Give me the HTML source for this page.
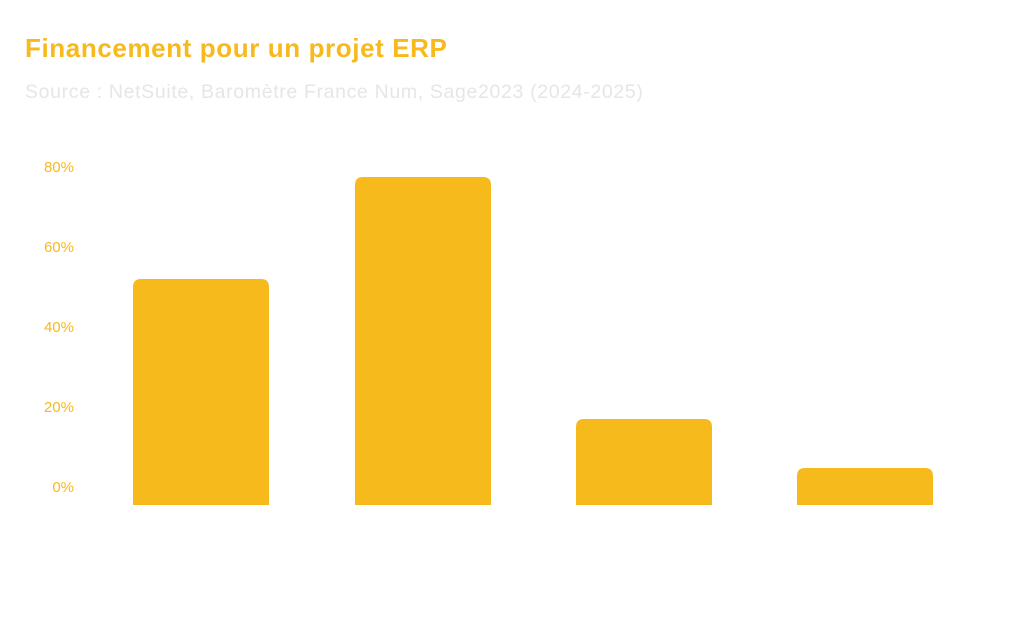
<!DOCTYPE html>
<html><head><meta charset="utf-8"><style>
html,body{margin:0;padding:0;background:#fff;}
body{width:1024px;height:632px;overflow:hidden;position:relative;font-family:"Liberation Sans",sans-serif;}
.t{position:absolute;left:25px;top:33px;font-size:26px;font-weight:bold;color:#F7B91C;letter-spacing:0.6px;white-space:nowrap;}
.s{position:absolute;left:25px;top:81px;font-size:19.5px;color:#e6e6e6;letter-spacing:0.65px;white-space:nowrap;}
</style></head><body>
<div class="t">Financement pour un projet ERP</div>
<div class="s">Source : NetSuite, Baromètre France Num, Sage2023 (2024-2025)</div>
<svg width="1024" height="632" style="position:absolute;left:0;top:0">
<g font-family="Liberation Sans, sans-serif" font-size="15" fill="#F7B91C" text-anchor="end">
<text x="74" y="172">80%</text>
<text x="74" y="252">60%</text>
<text x="74" y="332">40%</text>
<text x="74" y="412">20%</text>
<text x="74" y="492">0%</text>
</g>
<g fill="#F7BA1C">
<path d="M133 505 V287 Q133 279 141 279 H261 Q269 279 269 287 V505 Z"/>
<path d="M355 505 V185 Q355 177 363 177 H483 Q491 177 491 185 V505 Z"/>
<path d="M576 505 V427 Q576 419 584 419 H704 Q712 419 712 427 V505 Z"/>
<path d="M797 505 V476 Q797 468 805 468 H925 Q933 468 933 476 V505 Z"/>
</g>
</svg>
</body></html>
